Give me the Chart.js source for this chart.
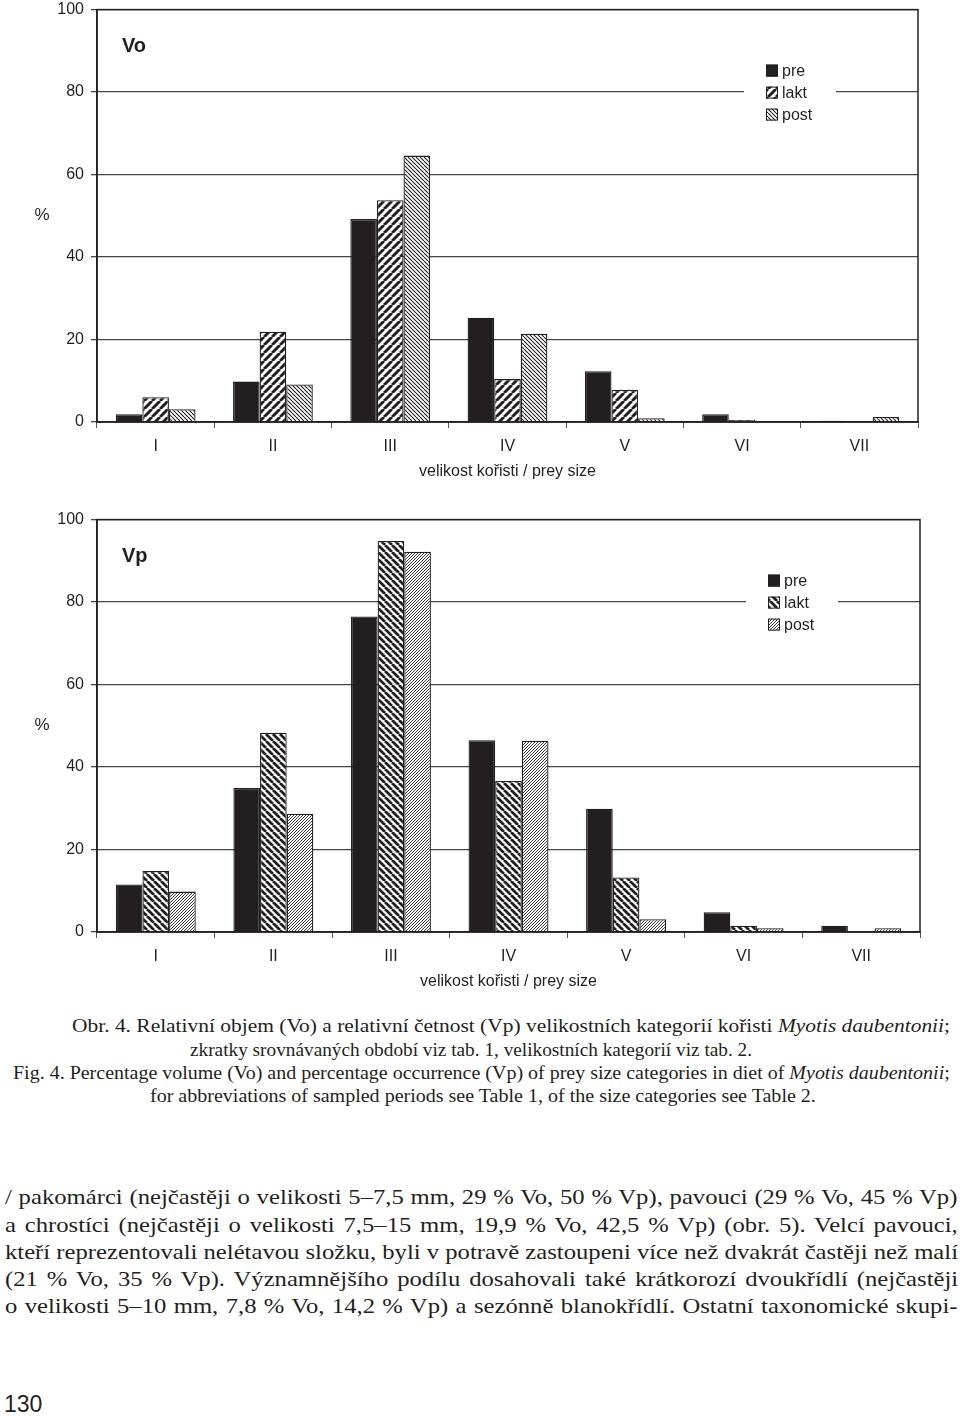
<!DOCTYPE html>
<html>
<head>
<meta charset="utf-8">
<script src="https://cdn.jsdelivr.net/npm/chart.js@4/dist/chart.umd.min.js"></script>
<style>
  html, body { margin: 0; padding: 0; background: #fff; }
  body { width: 960px; height: 1416px; position: relative; overflow: hidden; color: #231f20; }
  canvas { position: absolute; left: 0; }
  #c1 { top: -7px; }
  #c2 { top: 503px; }
  .cap { position: absolute; font-family: "Liberation Serif", "Times New Roman", serif; font-size: 19px; line-height: 22px; white-space: nowrap; transform-origin: 0 50%; }
  .body { position: absolute; left: 5px; font-family: "Liberation Serif", "Times New Roman", serif; font-size: 21.5px; line-height: 26px; white-space: nowrap; transform-origin: 0 50%; }
  #page { position: absolute; left: 4px; top: 1390px; font-family: "Liberation Sans", Arial, sans-serif; font-size: 23px; line-height: 28px; }
</style>
</head>
<body>
<canvas id="c1" width="960" height="497"></canvas>
<canvas id="c2" width="960" height="497"></canvas>

<div class="cap" data-w="878" style="left:72px; top:1015px;">Obr. 4. Relativní objem (Vo) a relativní četnost (Vp) velikostních kategorií kořisti <i>Myotis daubentonii</i>;</div>
<div class="cap" data-w="562" style="left:190px; top:1039px;">zkratky srovnávaných období viz tab. 1, velikostních kategorií viz tab. 2.</div>
<div class="cap" data-w="937" style="left:13px; top:1062px;">Fig. 4. Percentage volume (Vo) and percentage occurrence (Vp) of prey size categories in diet of <i>Myotis daubentonii</i>;</div>
<div class="cap" data-w="666" style="left:150px; top:1085px;">for abbreviations of sampled periods see Table 1, of the size categories see Table 2.</div>

<div class="body" data-w="953" style="top:1184px;">/ pakomárci (nejčastěji o velikosti 5–7,5 mm, 29 % Vo, 50 % Vp), pavouci (29 % Vo, 45 % Vp)</div>
<div class="body" data-w="953" style="top:1212px;">a chrostíci (nejčastěji o velikosti 7,5–15 mm, 19,9 % Vo, 42,5 % Vp) (obr. 5). Velcí pavouci,</div>
<div class="body" data-w="953" style="top:1239px;">kteří reprezentovali nelétavou složku, byli v potravě zastoupeni více než dvakrát častěji než malí</div>
<div class="body" data-w="953" style="top:1266px;">(21 % Vo, 35 % Vp). Významnějšího podílu dosahovali také krátkorozí dvoukřídlí (nejčastěji</div>
<div class="body" data-w="953" style="top:1293px;">o velikosti 5–10 mm, 7,8 % Vo, 14,2 % Vp) a sezónně blanokřídlí. Ostatní taxonomické skupi-</div>

<div id="page">130</div>

<script>
// ---- data ----
const categories = ['I', 'II', 'III', 'IV', 'V', 'VI', 'VII'];
const seriesNames = ['pre', 'lakt', 'post'];
const voPre  = [1.9, 9.8, 49.2, 25.3, 12.3, 1.9, 0.3];
const voLakt = [6.0, 21.9, 53.8, 10.4, 7.8, 0.5, 0];
const voPost = [3.1, 9.1, 64.6, 21.4, 0.9, 0.1, 1.2];
const vpPre  = [11.5, 34.9, 76.5, 46.5, 29.9, 4.8, 1.5];
const vpLakt = [14.8, 48.3, 94.8, 36.6, 13.2, 1.5, 0];
const vpPost = [9.8, 28.7, 92.2, 46.4, 3.1, 0.9, 0.9];
const yTicks = [0, 20, 40, 60, 80, 100];
const xTitle = 'velikost kořisti / prey size';
const yTitle = '%';

const INK = '#231f20';

function stripePattern(pitch, width, dir, color) {
  const c = document.createElement('canvas');
  c.width = pitch; c.height = pitch;
  const g = c.getContext('2d');
  g.fillStyle = '#fff';
  g.fillRect(0, 0, pitch, pitch);
  g.strokeStyle = color;
  g.lineWidth = width;
  g.beginPath();
  for (const k of [-pitch, 0, pitch]) {
    if (dir === '/') { g.moveTo(k, pitch); g.lineTo(k + pitch, 0); }
    else { g.moveTo(k, 0); g.lineTo(k + pitch, pitch); }
  }
  g.stroke();
  return g.createPattern(c, 'repeat');
}

Chart.defaults.font.family = '"Liberation Sans", Arial, sans-serif';
Chart.defaults.font.size = 16;
Chart.defaults.color = INK;

const decor = {
  id: 'decor',
  afterDraw(chart, args, opts) {
    const ctx = chart.ctx;
    const a = chart.chartArea;
    ctx.save();
    // frame
    ctx.strokeStyle = INK;
    ctx.lineWidth = 1.5;
    ctx.strokeRect(a.left, a.top, a.right - a.left, a.bottom - a.top);
    // panel title
    ctx.fillStyle = INK;
    ctx.font = 'bold 20px "Liberation Sans", Arial, sans-serif';
    ctx.textBaseline = 'middle';
    ctx.textAlign = 'left';
    ctx.fillText(opts.title, 122, a.top + 37);
    // y title
    ctx.font = '17px "Liberation Sans", Arial, sans-serif';
    ctx.textAlign = 'center';
    ctx.fillText(yTitle, 42, (a.top + a.bottom) / 2);
    // x title
    ctx.font = '16px "Liberation Sans", Arial, sans-serif';
    ctx.fillText(xTitle, (a.left + a.right) / 2, a.bottom + 50);
    // legend (white panel interrupts the gridline)
    ctx.fillStyle = '#fff';
    ctx.fillRect(a.right - 174, a.top + 47, 92, 70);
    ctx.textAlign = 'left';
    const lx = a.right - 152;
    chart.data.datasets.forEach((ds, i) => {
      const cy = a.top + 61 + i * 22;
      ctx.fillStyle = ds.backgroundColor;
      ctx.fillRect(lx, cy - 6, 12, 12);
      ctx.strokeStyle = INK;
      ctx.lineWidth = 1;
      ctx.strokeRect(lx + 0.5, cy - 5.5, 11, 11);
      ctx.fillStyle = INK;
      ctx.fillText(ds.label, lx + 16, cy + 1);
    });
    ctx.restore();
  }
};

function makeChart(id, title, values, patterns, padRight) {
  const datasets = seriesNames.map((name, i) => ({
    label: name,
    data: values[i],
    backgroundColor: patterns[i],
    borderColor: INK,
    borderWidth: 1.3,
    categoryPercentage: 0.68,
    barPercentage: 1.0
  }));
  return new Chart(document.getElementById(id), {
    type: 'bar',
    data: { labels: categories, datasets },
    plugins: [decor],
    options: {
      responsive: false,
      animation: false,
      devicePixelRatio: 1,
      layout: { padding: { top: 2, right: padRight, left: 0, bottom: 0 } },
      plugins: {
        legend: { display: false },
        tooltip: { enabled: false },
        decor: { title }
      },
      scales: {
        x: {
          afterFit(scale) { scale.height = 68; },
          grid: { offset: true, drawOnChartArea: false, drawTicks: true, tickLength: 6, color: '#555', lineWidth: 1 },
          border: { display: true, color: INK, width: 1.5 },
          ticks: { padding: 9, font: { size: 16 } }
        },
        y: {
          min: 0, max: 100,
          afterFit(scale) { scale.width = 97; },
          afterBuildTicks(scale) { scale.ticks = yTicks.map(v => ({ value: v })); },
          grid: { color: '#444', lineWidth: 1.3, drawTicks: true, tickLength: 6 },
          border: { display: true, color: INK, width: 1.5 },
          ticks: { padding: 7, font: { size: 16 } }
        }
      }
    }
  });
}

const p1 = [INK, stripePattern(8, 3, '/', INK), stripePattern(4, 1.1, '\\', INK)];
const p2 = [INK, stripePattern(7, 2.8, '\\', INK), stripePattern(3, 1, '/', '#3a3a3a')];

makeChart('c1', 'Vo', [voPre, voLakt, voPost], p1, 42);
makeChart('c2', 'Vp', [vpPre, vpLakt, vpPost], p2, 40);

// fit caption lines to their measured widths in the reference
document.querySelectorAll('.cap').forEach(el => {
  const w = +el.dataset.w;
  const nat = el.scrollWidth;
  el.style.transform = 'scaleX(' + (w / nat) + ')';
});
// body: one common horizontal scale, then justify each line with word spacing
const bodies = [...document.querySelectorAll('.body')];
const nats = bodies.map(el => el.scrollWidth);
const common = Math.min(...bodies.map((el, i) => (+el.dataset.w) / nats[i]));
bodies.forEach((el, i) => {
  const w = +el.dataset.w / common;
  const spaces = (el.textContent.match(/ /g) || []).length;
  if (spaces && w > nats[i]) el.style.wordSpacing = ((w - nats[i]) / spaces) + 'px';
  el.style.transform = 'scaleX(' + common + ')';
});
</script>
</body>
</html>
